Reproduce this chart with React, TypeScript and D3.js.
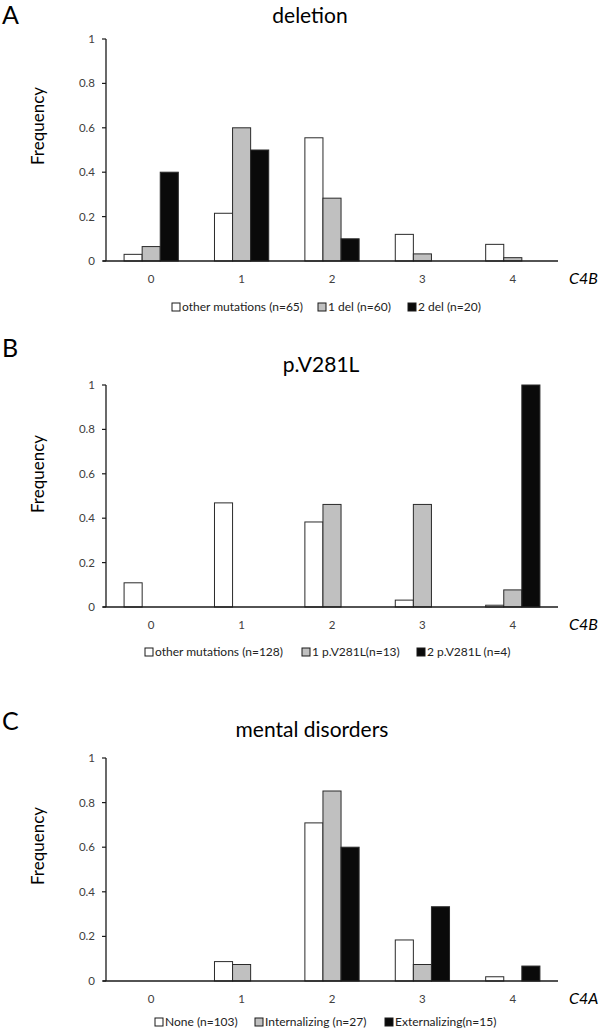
import React from "react";
import * as d3 from "d3";

const categories = ["0", "1", "2", "3", "4"];
const yTicks = [0, 0.2, 0.4, 0.6, 0.8, 1];

const delSeries = ["other mutations (n=65)", "1 del (n=60)", "2 del (n=20)"];
const delOther = [0.03, 0.215, 0.555, 0.12, 0.075];
const delOne = [0.065, 0.6, 0.283, 0.032, 0.015];
const delTwo = [0.4, 0.5, 0.1, 0, 0];

const vSeries = ["other mutations (n=128)", "1 p.V281L(n=13)", "2 p.V281L (n=4)"];
const vOther = [0.109, 0.469, 0.383, 0.031, 0.008];
const vOne = [0, 0, 0.462, 0.462, 0.077];
const vTwo = [0, 0, 0, 0, 1];

const mSeries = ["None (n=103)", "Internalizing (n=27)", "Externalizing(n=15)"];
const mNone = [0, 0.087, 0.709, 0.184, 0.019];
const mInt = [0, 0.074, 0.852, 0.074, 0];
const mExt = [0, 0, 0.6, 0.333, 0.067];

const FILLS = ["#ffffff", "#c0c0c0", "#0a0a0a"];
const FONT = "Lato, 'Open Sans', sans-serif";

type PanelProps = {
  letter: string;
  letterY: number;
  title: string;
  titleX: number;
  titleY: number;
  xLabel: string;
  series: string[];
  values: number[][];
  top: number;
  bottom: number;
  freqY: number;
  legendY: number;
  legendXs: number[];
};

const X0 = 106;
const X1 = 558;

function Panel(p: PanelProps) {
  const x = d3.scaleBand<string>().domain(categories).range([X0, X1]).paddingInner(0.4).paddingOuter(0.2);
  const xs = d3
    .scaleBand<string>()
    .domain(p.series)
    .range([0, x.bandwidth()]);
  const y = d3.scaleLinear().domain([0, 1]).range([p.bottom, p.top]);
  const tickLabelY = p.bottom + 22;
  return (
    <g>
      <text x={2} y={p.letterY} fontSize={25} fontFamily={FONT} fill="#000">
        {p.letter}
      </text>
      <text x={p.titleX} y={p.titleY} fontSize={21} fontFamily={FONT} textAnchor="middle" fill="#000">
        {p.title}
      </text>
      <text
        transform={`translate(44,${p.freqY}) rotate(-90)`}
        fontSize={17}
        fontFamily={FONT}
        textAnchor="middle"
        fill="#000"
      >
        Frequency
      </text>
      {p.values.map((vals, si) =>
        vals.map((v, ci) =>
          v > 0 ? (
            <rect
              key={`${si}-${ci}`}
              x={(x(categories[ci]) as number) + (xs(p.series[si]) as number)}
              y={y(v)}
              width={xs.bandwidth()}
              height={p.bottom - y(v)}
              fill={FILLS[si]}
              stroke="#2a2a2a"
              strokeWidth={1}
            />
          ) : null
        )
      )}
      <line x1={X0} x2={X0} y1={p.top} y2={p.bottom} stroke="#1a1a1a" strokeWidth={1.3} />
      <line x1={X0 - 3} x2={X1} y1={p.bottom} y2={p.bottom} stroke="#1a1a1a" strokeWidth={1.3} />
      {yTicks.map((t) => (
        <g key={t}>
          <line x1={X0 - 4} x2={X0} y1={y(t)} y2={y(t)} stroke="#1a1a1a" strokeWidth={1.2} />
          <text x={X0 - 11} y={y(t) + 4} fontSize={11.5} fontFamily={FONT} textAnchor="end" fill="#404040">
            {String(t)}
          </text>
        </g>
      ))}
      {categories.map((c) => (
        <text
          key={c}
          x={(x(c) as number) + x.bandwidth() / 2}
          y={tickLabelY}
          fontSize={11.5}
          fontFamily={FONT}
          textAnchor="middle"
          fill="#404040"
        >
          {c}
        </text>
      ))}
      <text x={569} y={p.bottom + 23} fontSize={16} fontStyle="italic" fontFamily={FONT} fill="#000">
        {p.xLabel}
      </text>
      {p.series.map((s, i) => (
        <g key={s}>
          <rect
            x={p.legendXs[i]}
            y={p.legendY - 8}
            width={8}
            height={8}
            fill={FILLS[i]}
            stroke="#1a1a1a"
            strokeWidth={1}
          />
          <text x={p.legendXs[i] + 10} y={p.legendY} fontSize={12} fontFamily={FONT} fill="#222">
            {s}
          </text>
        </g>
      ))}
    </g>
  );
}

export default function App() {
  return (
    <svg
      width={600}
      height={1031}
      style={{ position: "absolute", left: 0, top: 0, background: "#fff" }}
    >
      <rect x={0} y={0} width={600} height={1031} fill="#fff" />
      <Panel
        letter="A"
        letterY={24}
        title="deletion"
        titleX={310}
        titleY={23}
        xLabel="C4B"
        series={delSeries}
        values={[delOther, delOne, delTwo]}
        top={39}
        bottom={261}
        freqY={126}
        legendY={311}
        legendXs={[172, 318, 408]}
      />
      <Panel
        letter="B"
        letterY={357}
        title="p.V281L"
        titleX={321}
        titleY={372}
        xLabel="C4B"
        series={vSeries}
        values={[vOther, vOne, vTwo]}
        top={385}
        bottom={607}
        freqY={474}
        legendY={656}
        legendXs={[145, 302, 417]}
      />
      <Panel
        letter="C"
        letterY={730}
        title="mental disorders"
        titleX={312}
        titleY={737}
        xLabel="C4A"
        series={mSeries}
        values={[mNone, mInt, mExt]}
        top={758}
        bottom={981}
        freqY={846}
        legendY={1026}
        legendXs={[155, 255, 385]}
      />
    </svg>
  );
}
